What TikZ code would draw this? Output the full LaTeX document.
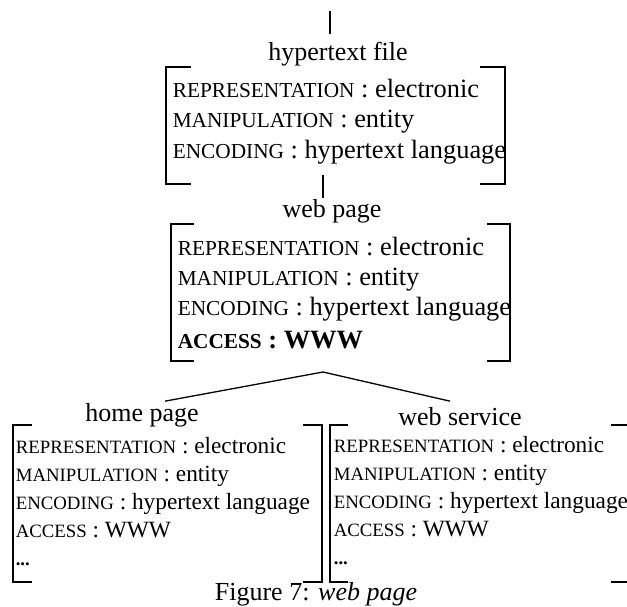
\documentclass[tikz,border=0pt]{standalone}
\usepackage{fontspec}
\setmainfont{Liberation Serif}
\usetikzlibrary{positioning}

\def\featsize{21}
\newcommand{\feat}[1]{{\fontsize{\featsize}{10}\selectfont #1}}
% left x, top y, right x, bottom y, tick length
\newcommand{\brackets}[5]{%
  \draw (#1+#5,#2) -- (#1,#2) -- (#1,#4) -- (#1+#5,#4);
  \draw (#3-#5,#2) -- (#3,#2) -- (#3,#4) -- (#3-#5,#4);}

\begin{document}
\begin{tikzpicture}[x=1pt,y=-1pt,line width=1.6pt,
  title/.style={font=\fontsize{26}{30}\selectfont,inner sep=0pt,anchor=base},
  bigbox/.style={align=left,inner sep=0pt,anchor=base west,
    font=\fontsize{26.4}{30.3}\selectfont\def\featsize{21.3}},
  smallbox/.style={align=left,inner sep=0pt,anchor=base west,
    font=\fontsize{23.3}{28}\selectfont\def\featsize{18.8}}]
\useasboundingbox (0,0) rectangle (627,606);
\clip (0,0) rectangle (627,606);

% hypertext file
\coordinate (top) at (330,11);
\node[title] (hfile) at (338,60) {hypertext file};
\draw[shorten >=7pt] (top) -- (top |- hfile.north);
\node[bigbox] (hftext) at (172,158) {\feat{REPRESENTATION} : electronic\\
  \feat{MANIPULATION} : entity\\
  \feat{ENCODING} : hypertext language};
\brackets{166}{67}{505}{184}{25}

% web page
\coordinate (hfend) at (323,175);
\node[title] (wpage) at (332,217) {web page};
\draw (hfend) -- (hfend |- wpage.north);
\node[bigbox] (wptext) at (177,348) {\feat{REPRESENTATION} : electronic\\
  \feat{MANIPULATION} : entity\\
  \feat{ENCODING} : hypertext language\\[2pt]
  \textbf{\feat{ACCESS} : WWW}};
\brackets{171}{224}{510}{361}{23}

% subtypes
\coordinate (apex) at (323,372);
\node[title] (hpage) at (142,421) {home page};
\node[title] (wserv) at (460,425) {web service};
\draw[line width=1.3pt] (apex) -- ([xshift=23pt,yshift=1pt]hpage.north);
\draw[line width=1.3pt] (apex) -- ([xshift=-10pt,yshift=5pt]wserv.north);

\node[smallbox] (hptext) at (15,565) {\feat{REPRESENTATION} : electronic\\
  \feat{MANIPULATION} : entity\\
  \feat{ENCODING} : hypertext language\\
  \feat{ACCESS} : WWW\\
  \textbf{\feat{...}}};
\brackets{13}{425}{322}{582}{19}

\node[smallbox] (wstext) at (333,564) {\feat{REPRESENTATION} : electronic\\
  \feat{MANIPULATION} : entity\\
  \feat{ENCODING} : hypertext language\\
  \feat{ACCESS} : WWW\\
  \textbf{\feat{...}}};
\brackets{330}{425}{629}{582}{18}

\node[title] (caption) at (316,600) {Figure 7: \textit{web page}};
\end{tikzpicture}
\end{document}
